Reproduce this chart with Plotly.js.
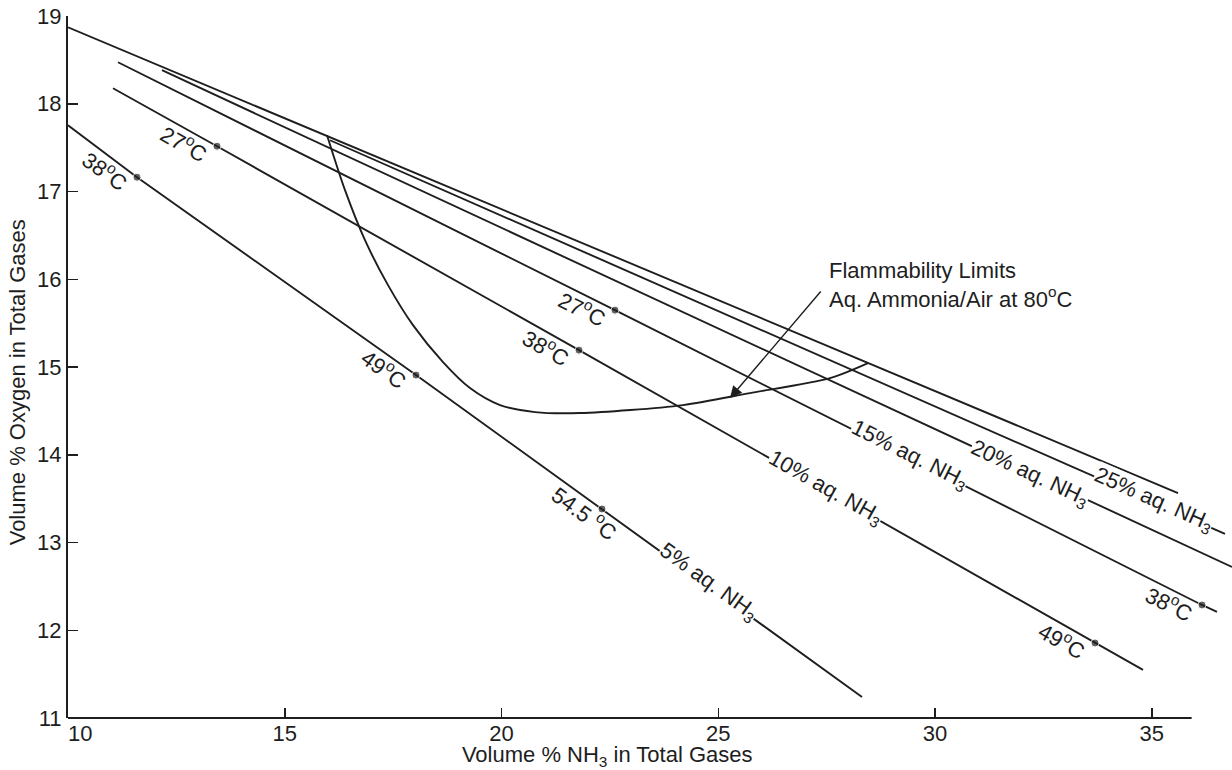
<!DOCTYPE html>
<html><head><meta charset="utf-8">
<script src="https://cdn.plot.ly/plotly-3.0.1.min.js"></script>
<style>html,body{margin:0;padding:0;background:#fff}</style>
</head><body>
<div id="chart" style="width:1232px;height:770px"></div>
<script>
// ---- Data (x: vol % NH3, y: vol % O2) ----
// upper boundary line (unlabelled)
const topX = [10.0, 35.606];
const topY = [18.871, 13.564];
// 25 % aq. NH3
const aq25X = [16.044, 36.690];
const aq25Y = [17.584, 13.097];
const aq25T = [null, null];
// 20 % aq. NH3
const aq20X = [12.168, 36.851];
const aq20Y = [18.382, 12.721];
const aq20T = [null, null];
// 15 % aq. NH3 (points marked with temperature dots)
const aq15X = [11.153, 22.618, 36.159, 36.505];
const aq15Y = [18.473, 15.648, 12.288, 12.209];
const aq15T = [null, '27', '38', null];
// 10 % aq. NH3
const aq10X = [11.038, 13.437, 21.788, 33.691, 34.798];
const aq10Y = [18.177, 17.516, 15.192, 11.855, 11.548];
const aq10T = [null, '27', '38', '49', null];
// 5 % aq. NH3
const aq5X = [10.0, 11.592, 18.028, 22.318, 28.316];
const aq5Y = [17.755, 17.163, 14.908, 13.382, 11.240];
const aq5T = [null, '38', '49', '54.5 ', null];
// Flammability limit curve, aq. ammonia / air at 80 C
const flamX = [15.975, 16.390, 16.851, 17.382, 17.958, 18.651, 19.273, 19.965, 20.773, 21.811, 24.187, 25.732, 27.578, 28.454];
const flamY = [17.641, 17.015, 16.445, 15.933, 15.477, 15.056, 14.760, 14.566, 14.486, 14.475, 14.566, 14.703, 14.873, 15.044];
// axis ticks
const xTicks = [10, 15, 20, 25, 30, 35];
const xTickText = ['\u00a0\u00a0\u00a0\u00a010', '15', '20', '25', '30', '35'];
const yTicks = [11, 12, 13, 14, 15, 16, 17, 18, 19];

// ---- Layout constants ----
const W = 1232, H = 770;
const M = {l: 68, r: 0, t: 16, b: 52};
const XR = [10, 36.851], YR = [11, 19];
const pxX = (W - M.l - M.r) / (XR[1] - XR[0]);
const pxY = (H - M.t - M.b) / (YR[1] - YR[0]);
const INK = '#1e1e1e';
const FONT = 'Liberation Sans, Arial, Helvetica, sans-serif';
const pad = n => '\u00a0'.repeat(n) + '\u200b';

function angleOf(xs, ys) {
  const n = xs.length - 1;
  const s = (ys[0] - ys[n]) / (xs[n] - xs[0]);
  return Math.atan(s * pxY / pxX) * 180 / Math.PI;
}

const series = [
  {name: '25% aq. NH<sub>3</sub>', x: aq25X, y: aq25Y, t: aq25T, lab: [35.029, 13.484]},
  {name: '20% aq. NH<sub>3</sub>', x: aq20X, y: aq20Y, t: aq20T, lab: [32.191, 13.780]},
  {name: '15% aq. NH<sub>3</sub>', x: aq15X, y: aq15Y, t: aq15T, lab: [29.400, 13.997]},
  {name: '10% aq. NH<sub>3</sub>', x: aq10X, y: aq10Y, t: aq10T, lab: [27.463, 13.621]},
  {name: '5% aq. NH<sub>3</sub>',  x: aq5X,  y: aq5Y,  t: aq5T,  lab: [24.764, 12.550]}
];

const traces = [{
  x: topX, y: topY, mode: 'lines', line: {color: INK, width: 1.9}, hoverinfo: 'skip', showlegend: false
}];
const annotations = [];

series.forEach(s => {
  traces.push({
    x: s.x, y: s.y, mode: 'lines+markers', showlegend: false, hoverinfo: 'skip',
    line: {color: INK, width: 1.9},
    marker: {color: INK, size: s.t.map(v => v === null ? 0 : 8)}
  });
  const ang = angleOf(s.x, s.y);
  const r = ang * Math.PI / 180;
  // aq. NH3 label sitting on the line
  annotations.push({
    x: s.lab[0], y: s.lab[1], xref: 'x', yref: 'y', text: s.name, showarrow: false,
    textangle: ang, bgcolor: '#ffffff', borderpad: 0,
    font: {family: FONT, size: 22, color: INK}
  });
  // temperature labels just before each dot, below the line
  s.t.forEach((tv, i) => {
    if (tv === null) return;
    const along = tv.length > 3 ? -11 : -30;
    const perp = 13;
    const dx = along * Math.cos(r) - perp * Math.sin(r);
    const dy = along * Math.sin(r) + perp * Math.cos(r);
    annotations.push({
      x: s.x[i], y: s.y[i], xref: 'x', yref: 'y', showarrow: false,
      text: tv + '<sup>o</sup>C', textangle: ang,
      xshift: dx, yshift: -dy,
      font: {family: FONT, size: 22, color: INK}
    });
  });
});

traces.push({
  x: flamX, y: flamY, mode: 'lines', showlegend: false, hoverinfo: 'skip',
  line: {color: INK, width: 1.9, shape: 'spline', smoothing: 0.8}
});

// flammability caption + arrow
annotations.push({
  x: 27.51, y: 15.94, xref: 'x', yref: 'y', xanchor: 'left', yanchor: 'middle', align: 'left',
  showarrow: false, text: 'Flammability Limits<br>Aq. Ammonia/Air at 80<sup>o</sup>C',
  font: {family: FONT, size: 22, color: INK}
});
annotations.push({
  x: 25.271, y: 14.646, xref: 'x', yref: 'y', text: '', showarrow: true,
  ax: 92, ay: -108, arrowhead: 2, arrowsize: 1.7, arrowwidth: 1.4, arrowcolor: INK, standoff: 0
});

const layout = {
  width: W, height: H, margin: M, paper_bgcolor: '#fff', plot_bgcolor: '#fff',
  font: {family: FONT, size: 22, color: INK},
  showlegend: false,
  xaxis: {
    range: XR, tickvals: xTicks, ticktext: xTickText, ticks: 'inside', ticklen: 10, tickwidth: 1.5,
    tickcolor: INK, showline: false, showgrid: false, zeroline: false,
    tickfont: {family: FONT, size: 22, color: INK},
    title: {text: 'Volume % NH<sub>3</sub> in Total Gases' + pad(14), standoff: 3,
            font: {family: FONT, size: 22, color: INK}}
  },
  yaxis: {
    range: YR, tickvals: yTicks, ticks: 'inside', ticklen: 10, tickwidth: 1.5, tickcolor: INK,
    showline: true, linewidth: 2, linecolor: INK, showgrid: false, zeroline: false,
    tickfont: {family: FONT, size: 22, color: INK},
    title: {text: 'Volume % Oxygen in Total Gases' + pad(5), standoff: 5,
            font: {family: FONT, size: 22, color: INK}}
  },
  shapes: [{type: 'line', xref: 'x', yref: 'paper', x0: 10, x1: 35.92, y0: 0, y1: 0,
            line: {color: INK, width: 2}}],
  annotations: annotations
};

Plotly.newPlot('chart', traces, layout, {displayModeBar: false, staticPlot: true});
</script>
</body></html>
